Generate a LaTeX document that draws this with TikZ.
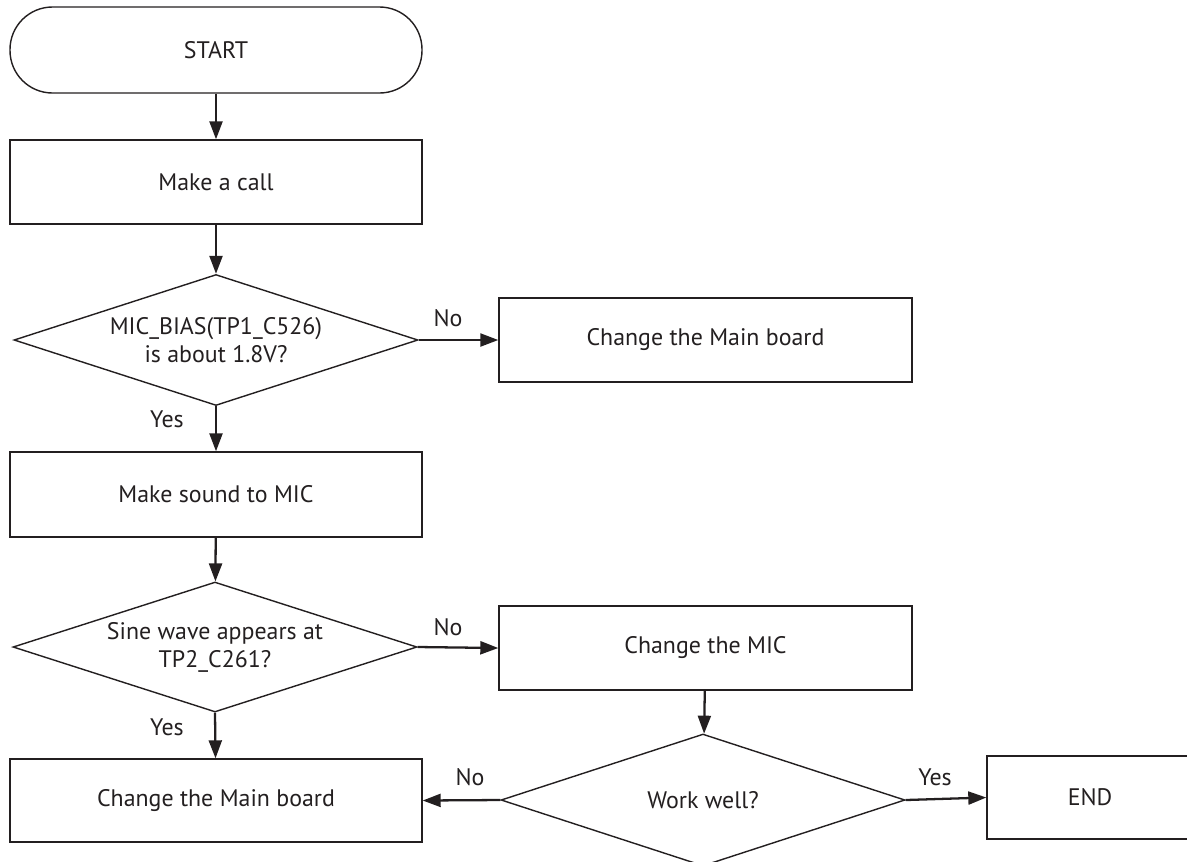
\documentclass[tikz,border=0pt]{standalone}
\usepackage{fontspec}
\setmainfont{PT Sans}
\usetikzlibrary{shapes.geometric,arrows.meta}

\definecolor{ink}{HTML}{231F20}

\begin{document}
\begin{tikzpicture}

\tikzset{block/.style = {shape=rectangle,draw=ink,line width=0.8pt,minimum width=8.24cm,minimum height=1.68cm,text=ink,font=\fontsize{13.6}{16}\selectfont}}
\tikzset{decision/.style = {shape=diamond,draw=ink,line width=0.8pt,aspect=3.1,inner sep=0pt,minimum width=8.08cm,minimum height=2.62cm,align=center,text=ink,font=\fontsize{13.6}{16}\selectfont}}
\tikzset{terminal/.style = {block,rounded corners=0.85cm,minimum height=1.72cm}}
\tikzset{answer/.style = {text=ink,font=\fontsize{13.6}{16}\selectfont}}
\tikzset{flow/.style = {draw=ink,line width=1.3pt,-{Triangle[length=3.6mm,width=2.6mm]}}}

\useasboundingbox (0,0) rectangle (23.74,-17.22);
\clip (0,0) rectangle (23.74,-17.22);

\node[terminal] (start) at (4.32,-1.00) {START};
\node[block] (call) at (4.32,-3.64) {Make a call};

\node[decision] (bias) at (4.32,-6.80) {MIC\_BIAS(TP1\_C526)\\is about 1.8V?};
\node[block,minimum width=8.26cm] (main1) at (14.11,-6.80) {Change the Main board};

\node[block,minimum height=1.70cm] (sound) at (4.32,-9.89) {Make sound to MIC};

\node[decision,minimum height=2.60cm] (wave) at (4.30,-12.94) {Sine wave appears at\\TP2\_C261?};
\node[block,minimum width=8.26cm] (mic) at (14.11,-12.96) {Change the MIC};

\node[decision,minimum height=2.64cm] (well) at (14.06,-16.00) {Work well?};
\node[block,minimum height=1.66cm] (main2) at (4.32,-16.01) {Change the Main board};
\node[block,minimum width=4.40cm,minimum height=1.66cm] (end) at (21.94,-15.95) {\hspace*{-0.28cm}END};

\draw[flow] (start) -- (call);
\draw[flow] (call) -- (bias);
\draw[flow] (bias.east) -- (main1.west);
\draw[flow] (bias.south) -- (sound);
\draw[flow] (sound) -- (wave);
\draw[flow] (wave.east) -- (mic.west);
\draw[flow] (wave.south) -- (main2);
\draw[flow] (mic) -- (well);
\draw[flow] (well.west) -- (main2.east);
\draw[flow] (well.east) -- (end.west);

\node[answer] (no1) at (8.96,-6.36) {No};
\node[answer] (yes1) at (3.34,-8.38) {Yes};
\node[answer] (no2) at (8.96,-12.54) {No};
\node[answer] (yes2) at (3.34,-14.54) {Yes};
\node[answer] (no3) at (9.40,-15.54) {No};
\node[answer] (yes3) at (18.70,-15.54) {Yes};

\end{tikzpicture}
\end{document}
